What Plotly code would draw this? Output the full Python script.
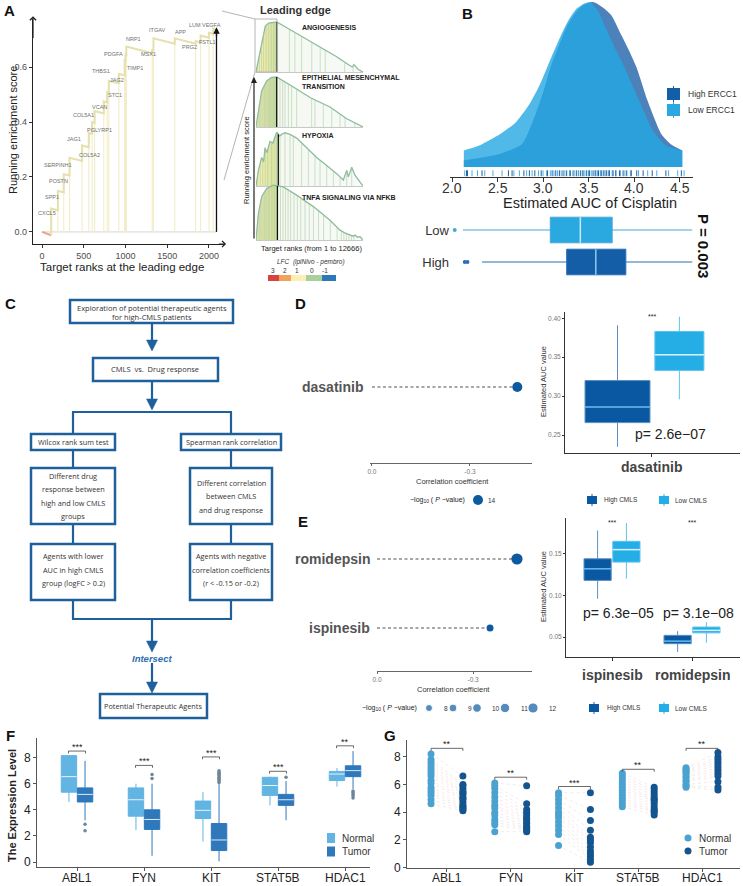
import plotly.graph_objects as go
import numpy as np

W, H = 743, 886
SANS = "Liberation Sans, Arial, sans-serif"
FLOW = "Open Sans, Noto Sans, sans-serif"

# ======================= DATA =======================
# ---- Panel A (left): running enrichment score at the leading edge ----
lead_genes = ["CXCL5", "SPP1", "POSTN", "SERPINH1", "COL5A2", "JAG1", "PGLYRP1", "COL5A1",
              "VCAN", "STC1", "JAG2", "THBS1", "TIMP1", "PDGFA", "NRP1", "MSX1", "ITGAV",
              "APP", "PRG2", "LUM", "FSTL1", "VEGFA"]
lead_rank = [110, 190, 260, 330, 480, 560, 600, 630, 740, 780, 800, 920, 990, 1000, 1010,
             1320, 1335, 1590, 1840, 1900, 2000, 2050]
lead_es_before = [-0.012, 0.079, 0.144, 0.205, 0.258, 0.308, 0.357, 0.397, 0.431, 0.471, 0.508,
                  0.541, 0.570, 0.624, 0.644, 0.650, 0.662, 0.685, 0.685, 0.690, 0.707, 0.721]
lead_es_after = [0.085, 0.150, 0.210, 0.270, 0.315, 0.360, 0.400, 0.440, 0.475, 0.510, 0.550,
                 0.575, 0.625, 0.645, 0.675, 0.662, 0.705, 0.705, 0.695, 0.715, 0.725, 0.740]
lead_start_es = 0.0
lead_end_rank = 2090
lead_end_es = 0.737
lead_xticks = [0, 500, 1000, 1500, 2000]
lead_yticks = [0.0, 0.2, 0.4, 0.6]

# ---- Panel A (right): four hallmark gene sets ----
gs_names = ["ANGIOGENESIS", "EPITHELIAL MESENCHYMAL<br>TRANSITION", "HYPOXIA", "TNFA SIGNALING VIA NFKB"]
angio_rank = [0, 250, 500, 800, 1100, 1500, 2000, 2450, 3500, 5000, 6500, 8000, 9500, 11000,
              11400, 11600, 11800, 12100, 12666]
angio_es = [0, 0.22, 0.45, 0.72, 0.92, 0.98, 0.99, 1.0, 0.90, 0.75, 0.60, 0.45, 0.31, 0.14,
            0.10, 0.15, 0.11, 0.05, 0]
angio_hits = [150, 400, 650, 900, 1200, 1500, 1800, 2100, 2350, 3950, 4600, 5400, 6600, 7600,
              8200, 10500, 11500]
emt_rank = [0, 280, 670, 1260, 1850, 2450, 3500, 4800, 6500, 8760, 10700, 11900, 12666]
emt_es = [0, 0.33, 0.72, 0.92, 0.99, 1.0, 0.90, 0.76, 0.58, 0.40, 0.17, 0.06, 0]
emt_hits = [100, 250, 400, 550, 700, 850, 1000, 1150, 1300, 1450, 1600, 1750, 1900, 2050, 2200,
            2350, 2840, 3160, 3430, 3830, 4220, 4810, 6590, 6980, 7970, 8960, 9950, 10540, 11700]
hyp_rank = [0, 300, 670, 900, 1070, 1300, 1660, 2000, 2450, 2800, 3040, 3430, 4030, 4810, 6000,
            7180, 8370, 9550, 10340, 10740, 10930, 11330, 11720, 12310, 12666]
hyp_es = [0, 0.30, 0.53, 0.45, 0.71, 0.62, 0.83, 0.80, 1.0, 0.93, 0.96, 0.99, 0.96, 0.89, 0.71,
          0.53, 0.38, 0.23, 0.11, 0.29, 0.17, 0.35, 0.20, 0.08, 0]
hyp_hits = [200, 500, 800, 1100, 1400, 1850, 2450, 2840, 3430, 4030, 4420, 5400, 6200, 6980, 7580,
            8370, 9160, 9950, 10740, 11330]
tnfa_rank = [0, 280, 670, 1260, 2050, 3240, 4810, 6790, 8760, 9950, 10500, 11130, 11500, 11720,
             12000, 12310, 12666]
tnfa_es = [0, 0.48, 0.79, 0.94, 1.0, 0.97, 0.82, 0.61, 0.36, 0.18, 0.13, 0.09, 0.07, 0.09, 0.05,
           0.06, 0]
tnfa_hits = [100, 250, 400, 550, 700, 850, 1000, 1150, 1300, 1450, 1600, 1800, 2000, 2200, 2600,
             2900, 3200, 3500, 3800, 4100, 4500, 4900, 5300, 5800, 6300, 6800, 7400, 8000, 8800,
             9600, 10100, 10400, 10700, 11000, 11300, 11600]
gs_edge_rank = [2450, 2450, 2640, 2530]
gs_total_rank = 12666
lfc_labels = ["3", "2", "1", "0", "-1"]

# ---- Panel B: estimated AUC of cisplatin ----
auc_grid_low = [2.13, 2.30, 2.53, 2.70, 2.85, 2.97, 3.08, 3.19, 3.28, 3.37, 3.45, 3.52, 3.60,
                3.70, 3.80, 3.89, 4.05, 4.22, 4.35, 4.53]
low_dens = [0.10, 0.13, 0.20, 0.27, 0.38, 0.505, 0.65, 0.79, 0.89, 0.96, 0.99, 1.0, 0.95,
            0.83, 0.71, 0.61, 0.41, 0.21, 0.13, 0.10]
auc_grid_high = [2.13, 2.53, 2.77, 2.89, 3.00, 3.08, 3.17, 3.26, 3.35, 3.44, 3.55, 3.65, 3.75,
                 3.86, 3.95, 4.03, 4.15, 4.30, 4.40, 4.53]
high_dens = [0.04, 0.08, 0.14, 0.28, 0.45, 0.60, 0.73, 0.85, 0.93, 0.98, 1.0, 0.97, 0.92, 0.80,
             0.70, 0.60, 0.40, 0.20, 0.14, 0.10]
b_high_auc = [2.16, 2.17, 2.33, 2.62, 2.66, 2.79, 2.85, 2.91, 2.98, 3.05, 3.10, 3.14, 3.18, 3.22,
              3.26, 3.30, 3.33, 3.37, 3.41, 3.44, 3.48, 3.51, 3.55, 3.58, 3.61, 3.64, 3.67, 3.70,
              3.73, 3.77, 3.80, 3.84, 3.88, 3.92, 3.97, 4.03, 4.10, 4.20, 4.35, 4.52]
b_low_auc = [2.14, 2.22, 2.28, 2.36, 2.45, 2.55, 2.68, 2.74, 2.82, 2.88, 2.95, 3.00, 3.04, 3.08,
             3.12, 3.16, 3.20, 3.24, 3.29, 3.35, 3.39, 3.43, 3.46, 3.50, 3.53, 3.57, 3.60, 3.63,
             3.66, 3.69, 3.72, 3.76, 3.80, 3.85, 3.90, 3.96, 4.05, 4.15, 4.25, 4.38, 4.48, 4.55]
b_xticks = [2.0, 2.5, 3.0, 3.5, 4.0, 4.5]
b_groups = ["High", "Low"]
b_q1 = [3.26, 3.08]
b_med = [3.58, 3.41]
b_q3 = [3.91, 3.76]
b_lo = [2.33, 2.12]
b_hi = [4.64, 4.64]
b_outliers = [[2.14, 2.17], [2.03]]
b_pvalue = "P = 0.003"
b_legend = ["High ERCC1", "Low ERCC1"]

# ---- Panel D: dasatinib ----
d_drugs = ["dasatinib"]
d_corr = [-0.445]
d_logp = [14]
d_corr_ticks = [0.0, -0.3]
d_q1 = [0.266, 0.333]
d_med = [0.286, 0.353]
d_q3 = [0.320, 0.383]
d_lo = [0.235, 0.296]
d_hi = [0.391, 0.402]
d_yticks = [0.25, 0.30, 0.35, 0.40]
d_pval = ["2.6e−07"]
d_sig = ["***"]
cmls_groups = ["High CMLS", "Low CMLS"]

# ---- Panel E: ispinesib / romidepsin ----
e_drugs = ["ispinesib", "romidepsin"]
e_corr = [-0.353, -0.437]
e_logp = [8, 12]
e_legend_logp = [8, 9, 10, 11, 12]
e_q1_high = [0.118, 0.042]
e_med_high = [0.132, 0.045]
e_q3_high = [0.144, 0.052]
e_lo_high = [0.096, 0.032]
e_hi_high = [0.178, 0.057]
e_q1_low = [0.140, 0.055]
e_med_low = [0.155, 0.058]
e_q3_low = [0.165, 0.062]
e_lo_low = [0.120, 0.043]
e_hi_low = [0.187, 0.068]
e_yticks = [0.05, 0.10, 0.15]
e_pval = ["6.3e−05", "3.1e−08"]
e_sig = ["***", "***"]

# ---- Panel F: expression boxplots ----
genes = ["ABL1", "FYN", "KIT", "STAT5B", "HDAC1"]
f_norm_q1 = [5.35, 3.51, 3.33, 5.10, 6.24]
f_norm_med = [6.54, 4.77, 3.96, 5.86, 6.74]
f_norm_q3 = [8.15, 5.68, 4.67, 6.49, 6.94]
f_norm_lo = [4.60, 2.45, 1.57, 4.34, 5.78]
f_norm_hi = [8.20, 6.00, 5.35, 6.54, 7.20]
f_tum_q1 = [4.60, 2.50, 0.88, 4.34, 6.54]
f_tum_med = [5.18, 3.26, 1.69, 4.77, 7.00]
f_tum_q3 = [5.68, 4.00, 2.95, 5.18, 7.37]
f_tum_lo = [3.20, 0.48, 0.05, 3.20, 5.60]
f_tum_hi = [7.75, 6.00, 6.00, 6.20, 8.50]
f_tum_outliers = [[2.9, 2.4], [6.4, 6.7],
                  [6.1, 6.2, 6.3, 6.4, 6.5, 6.6, 6.7, 6.8, 6.9, 7.0],
                  [6.5], [5.45, 5.35, 5.2, 5.05, 4.9]]
f_sig = ["***", "***", "***", "***", "**"]
f_sig_y = [8.5, 7.4, 8.05, 6.95, 8.9]
expr_ticks = [0, 2, 4, 6, 8]

# ---- Panel G: paired expression ----
g_normal = [
    [8.2, 7.8, 7.6, 7.4, 7.2, 7.0, 6.8, 6.6, 6.3, 6.1, 5.8, 5.6, 5.4, 5.2, 4.9, 4.6],
    [6.1, 5.9, 5.7, 5.4, 5.1, 4.8, 4.5, 4.3, 4.0, 3.8, 3.5, 3.3, 3.1, 2.6],
    [5.4, 5.2, 4.9, 4.6, 4.3, 4.0, 3.8, 3.6, 3.3, 3.0, 2.7, 2.4, 1.6],
    [6.8, 6.6, 6.4, 6.2, 6.0, 5.8, 5.6, 5.4, 5.2, 5.0, 4.8, 4.6, 4.4],
    [7.2, 7.1, 7.0, 6.9, 6.8, 6.6, 6.5, 6.3, 6.2, 6.0, 5.9, 5.8],
]
g_tumor = [
    [6.6, 6.0, 5.9, 5.7, 5.5, 5.4, 5.3, 5.1, 5.0, 4.9, 4.7, 4.5, 4.4, 4.3, 4.2, 4.1],
    [5.9, 4.6, 4.2, 4.0, 3.8, 3.6, 3.5, 3.3, 3.2, 3.0, 2.9, 2.8, 2.7, 2.6],
    [5.4, 4.2, 3.4, 2.7, 2.2, 2.0, 1.8, 1.5, 1.2, 1.0, 0.8, 0.6, 0.4],
    [5.8, 5.6, 5.4, 5.2, 5.0, 4.9, 4.8, 4.6, 4.4, 4.2, 4.1, 4.0, 3.8],
    [8.3, 8.0, 7.8, 7.6, 7.4, 7.2, 7.0, 6.8, 6.6, 6.2, 5.8, 5.6],
]
g_sig = ["**", "**", "***", "**", "**"]
g_sig_y = [8.6, 6.52, 5.85, 7.09, 8.6]

# ======================= HELPERS =======================
fig = go.Figure()
LAY = {}
NAX = [0]
ANN = []
SHP = []
BASE_AX = dict(showgrid=False, zeroline=False, showticklabels=False, ticks="", showline=False,
               automargin=False, fixedrange=True)


def axes(x0, x1, y0, y1, xr, yr, xkw=None, ykw=None):
    NAX[0] += 1
    i = NAX[0]
    s = "" if i == 1 else str(i)
    xa = dict(BASE_AX, domain=[x0 / W, x1 / W], range=xr, anchor="y" + s)
    ya = dict(BASE_AX, domain=[1 - y1 / H, 1 - y0 / H], range=yr, anchor="x" + s)
    if xkw:
        xa.update(xkw)
    if ykw:
        ya.update(ykw)
    LAY["xaxis" + s] = xa
    LAY["yaxis" + s] = ya
    return "x" + s, "y" + s


def txt(x, y, s, size=10, color="#333", family=SANS, xa="center", ya="middle", angle=0):
    ANN.append(dict(x=x / W, y=1 - y / H, xref="paper", yref="paper", text=s, showarrow=False,
                    font=dict(size=size, color=color, family=family), xanchor=xa, yanchor=ya,
                    textangle=angle))


def xlab(xref, xv, y, s, size, color="#222"):
    ANN.append(dict(x=xv, y=1 - y / H, xref=xref, yref="paper", text=s, showarrow=False,
                    font=dict(size=size, color=color, family=SANS), xanchor="center",
                    yanchor="middle"))


def pline(x0, y0, x1, y1, color, width=1.0, dash=None):
    SHP.append(dict(type="line", xref="paper", yref="paper", x0=x0 / W, y0=1 - y0 / H,
                    x1=x1 / W, y1=1 - y1 / H, line=dict(color=color, width=width, dash=dash)))


def prect(x0, y0, x1, y1, line=None, fill=None, width=1.0):
    SHP.append(dict(type="rect", xref="paper", yref="paper", x0=x0 / W, y0=1 - y0 / H,
                    x1=x1 / W, y1=1 - y1 / H,
                    line=dict(color=line if line else "rgba(0,0,0,0)", width=width if line else 0),
                    fillcolor=fill if fill else "rgba(0,0,0,0)"))


def tri_down(cx, tip, w, h, color):
    path = (f"M {(cx - w / 2) / W},{1 - (tip - h) / H} L {(cx + w / 2) / W},{1 - (tip - h) / H} "
            f"L {cx / W},{1 - tip / H} Z")
    SHP.append(dict(type="path", xref="paper", yref="paper", path=path, fillcolor=color,
                    line=dict(color=color, width=0.5)))


def seg_xy(xs0, ys0, xs1, ys1):
    X, Y = [], []
    for a, b, c, d in zip(xs0, ys0, xs1, ys1):
        X += [a, c, None]
        Y += [b, d, None]
    return X, Y


def line_trace(X, Y, xa, ya, color, width=1.0, dash=None, shape="linear"):
    fig.add_trace(go.Scatter(x=X, y=Y, mode="lines", xaxis=xa, yaxis=ya, hoverinfo="skip",
                             line=dict(color=color, width=width, dash=dash, shape=shape),
                             showlegend=False))


def tick_ax(size=9, color="#4d4d4d", **kw):
    d = dict(showline=True, linecolor="#333", linewidth=1, ticks="outside", ticklen=3,
             tickcolor="#333", showticklabels=True, tickfont=dict(size=size, color=color, family=SANS))
    d.update(kw)
    return d


# ======================= PANEL A (left) =======================
xa, ya = axes(33, 225, 19, 244, [-108, 2192], [-0.044, 0.775],
              xkw=tick_ax(9, linecolor="#222", linewidth=1.2, tickvals=lead_xticks),
              ykw=tick_ax(9, linecolor="#222", linewidth=1.2, tickvals=lead_yticks,
                          ticktext=[f"{v:.1f}" for v in lead_yticks]))
line_trace([0, lead_end_rank], [0, 0], xa, ya, "#d6d6d6", 1)
hx, hy = seg_xy(lead_rank, [0] * len(lead_rank), lead_rank, lead_es_after)
line_trace(hx, hy, xa, ya, "#f2edc8", 1.1)
line_trace([0, lead_rank[0]], [lead_start_es, lead_es_before[0]], xa, ya, "#f0a07e", 2)
px_, py_ = [lead_rank[0]], [lead_es_before[0]]
for r, b, a in zip(lead_rank, lead_es_before, lead_es_after):
    px_ += [r, r]
    py_ += [b, a]
px_.append(lead_end_rank)
py_.append(lead_end_es)
line_trace(px_, py_, xa, ya, "#e6e0ad", 2)
line_trace([lead_end_rank, lead_end_rank], [0, lead_end_es], xa, ya, "#111", 1.3)
ANN.append(dict(x=lead_end_rank, y=lead_end_es + 0.008, xref=xa, yref=ya, ax=lead_end_rank,
                ay=lead_end_es - 0.03, axref=xa, ayref=ya, showarrow=True, arrowhead=2,
                arrowsize=1, arrowwidth=1.3, arrowcolor="#111", text=""))
ANN.append(dict(x=-108, y=0.785, xref=xa, yref=ya, ax=-108, ay=0.70, axref=xa, ayref=ya,
                showarrow=True, arrowhead=4, arrowsize=1, arrowwidth=1.2, arrowcolor="#222", text=""))
ANN.append(dict(x=2205, y=-0.044, xref=xa, yref=ya, ax=2100, ay=-0.044, axref=xa, ayref=ya,
                showarrow=True, arrowhead=4, arrowsize=1, arrowwidth=1.2, arrowcolor="#222", text=""))
lead_label_px = [(47, 213), (52, 197), (58, 181), (58, 165), (89, 155), (74, 139), (99, 130),
                 (83, 115), (99, 107), (115, 95), (117, 80), (101, 71), (135, 68), (113, 54),
                 (133, 39), (148, 54), (157, 30), (180, 32), (189, 47), (195, 25), (208, 42),
                 (211, 25)]
for g, (lx, ly) in zip(lead_genes, lead_label_px):
    txt(lx, ly, g, 5.5, "#707070")
txt(13, 130, "Running enrichment score", 11, "#222", angle=-90)
txt(122, 267, "Target ranks at the leading edge", 11.5, "#222")

# ======================= PANEL A (right) =======================
gs_data = [(angio_rank, angio_es, angio_hits), (emt_rank, emt_es, emt_hits),
           (hyp_rank, hyp_es, hyp_hits), (tnfa_rank, tnfa_es, tnfa_hits)]
gs_dom = [(19, 72), (74, 127), (129, 186), (182, 240)]
gs_title_y = [28, 81, 135, 197]
grad = [[0, "#f7f1b8"], [0.08, "#efeaa9"], [0.19, "#d2e2a0"], [0.21, "rgba(232,241,222,0.45)"],
        [1, "rgba(232,242,232,0.35)"]]
for (rk, es, hits), (t0, t1), ty, name, edge in zip(gs_data, gs_dom, gs_title_y, gs_names, gs_edge_rank):
    gx, gy = axes(256, 363, t0, t1, [0, gs_total_rank], [0, 1.06],
                  xkw=dict(showline=True, linecolor="#c8c8c8", linewidth=1))
    fig.add_trace(go.Scatter(x=rk, y=es, mode="lines", fill="tozeroy", xaxis=gx, yaxis=gy,
                             fillgradient=dict(type="horizontal", colorscale=grad),
                             line=dict(color="#8dbb9d", width=1.3), hoverinfo="skip",
                             showlegend=False))
    hv = np.interp(hits, rk, es)
    X, Y = seg_xy(hits, [0] * len(hits), hits, list(hv))
    line_trace(X, Y, gx, gy, "rgba(165,200,160,0.6)", 0.9)
    ev = float(np.interp(edge, rk, es))
    line_trace([edge, edge], [0, ev], gx, gy, "#111", 1.3)
    nm = name.split("<br>")
    for k, part in enumerate(nm):
        txt(300, ty + k * 9 - (4 if len(nm) > 1 else 0), f"<b>{part}</b>", 7, "#222", xa="left")
prect(255, 19, 277, 72, line="#b5b5b5", width=1)
pline(222, 11, 255, 19, "#b5b5b5", 1)
pline(224, 180, 255, 72, "#b5b5b5", 1)
ANN.append(dict(x=254 / W, y=1 - 77 / H, xref="paper", yref="paper", ax=0, ay=163,
                showarrow=True, arrowhead=2, arrowsize=1, arrowwidth=1.2, arrowcolor="#222", text=""))
txt(258, 10, "<b>Leading edge</b>", 11, "#333", xa="left")
txt(311, 249, "Target ranks (from 1 to 12666)", 7.5, "#222")
txt(247, 160, "Running enrichment score", 7.5, "#222", angle=-90)
txt(311, 262, "<i>LFC  (ipiNivo - pembro)</i>", 6.5, "#333")
lfc_colors = ["#d7433f", "#f3a25c", "#fbf0b2", "#a9d09b", "#2b79b8"]
lfc_x = [268, 279, 291, 306, 322, 336]
lfc_lx = [273, 285, 297, 312, 325]
for i, (lab, c) in enumerate(zip(lfc_labels, lfc_colors)):
    prect(lfc_x[i], 275, lfc_x[i + 1], 281, fill=c)
    txt(lfc_lx[i], 270, lab, 6.5, "#333")

# ======================= PANEL B =======================
xb, yb = axes(450, 693, 0, 177, [1.978, 4.648], [-0.0606, 1.012],
              xkw=dict(showline=True, linecolor="#333", linewidth=1, ticks="outside", ticklen=4,
                       tickcolor="#333", tickvals=b_xticks))
fig.add_trace(go.Scatter(x=auc_grid_high, y=high_dens, mode="lines", fill="tozeroy",
                         fillcolor="rgba(31,98,168,0.80)", line=dict(width=0, shape="spline", smoothing=0.6),
                         xaxis=xb, yaxis=yb, hoverinfo="skip", showlegend=False))
fig.add_trace(go.Scatter(x=auc_grid_low, y=low_dens, mode="lines", fill="tozeroy",
                         fillcolor="rgba(36,168,226,0.80)", line=dict(width=0, shape="spline", smoothing=0.6),
                         xaxis=xb, yaxis=yb, hoverinfo="skip", showlegend=False))
X, Y = seg_xy(b_low_auc, [-0.056] * len(b_low_auc), b_low_auc, [-0.02] * len(b_low_auc))
line_trace(X, Y, xb, yb, "#4aaee2", 1)
X, Y = seg_xy(b_high_auc, [-0.056] * len(b_high_auc), b_high_auc, [-0.02] * len(b_high_auc))
line_trace(X, Y, xb, yb, "#1f5fa6", 1)
for v in b_xticks:
    xlab(xb, v, 188, f"{v:.1f}", 14, "#333")
txt(590, 203, "Estimated AUC of Cisplatin", 14.5, "#222")

xbb, ybb = axes(450, 693, 214, 278, [1.978, 4.648], [-0.5, 1.5],
                ykw=dict(showticklabels=True, tickvals=[0, 1], ticktext=b_groups,
                         tickfont=dict(size=13, color="#333", family=SANS)))
b_fill = ["#145ea8", "#29a9e0"]
b_line = ["#2a6fb5", "#47a7db"]
b_medc = ["#8cc7ee", "#c9e9f8"]
for i in range(2):
    fig.add_trace(go.Box(y=[i], q1=[b_q1[i]], median=[b_med[i]], q3=[b_q3[i]],
                         lowerfence=[b_lo[i]], upperfence=[b_hi[i]], orientation="h",
                         width=0.8, whiskerwidth=0, fillcolor=b_fill[i],
                         line=dict(color=b_line[i], width=1), xaxis=xbb, yaxis=ybb,
                         boxpoints=False, hoverinfo="skip", showlegend=False))
    line_trace([b_med[i], b_med[i]], [i - 0.4, i + 0.4], xbb, ybb, b_medc[i], 1.5)
    fig.add_trace(go.Scatter(x=b_outliers[i], y=[i] * len(b_outliers[i]), mode="markers",
                             marker=dict(size=4, color=b_line[i]), xaxis=xbb, yaxis=ybb,
                             hoverinfo="skip", showlegend=False))
txt(703, 246, f"<b>{b_pvalue}</b>", 15, "#111", angle=90)
for k, (lab, c) in enumerate(zip(b_legend, b_fill)):
    yy = 94 + k * 16
    prect(667, yy - 6, 680, yy + 6, fill=c)
    pline(673.5, yy - 8, 673.5, yy + 8, c, 1)
    txt(686, yy, lab, 8.5, "#333", xa="left")

# ======================= PANEL C (flowchart) =======================
BL = "#1e5f9c"
FT = "#333"
prect(70, 300, 233, 323, line=BL, width=2.5)
txt(152, 308, "Exploration of potential therapeutic agents", 7.5, FT, FLOW)
txt(152, 317, "for high-CMLS patients", 7.5, FT, FLOW)
pline(152, 323, 152, 341, BL, 2.2)
tri_down(152, 351, 11, 11, BL)
prect(93, 358, 218, 381, line=BL, width=2.5)
txt(155, 369, "CMLS  vs.  Drug response", 7.5, FT, FLOW)
pline(152, 381, 152, 399, BL, 2.2)
tri_down(152, 410, 11, 11, BL)
pline(72, 412, 232, 412, BL, 2.2)
for cx in (73, 231):
    pline(cx, 412, cx, 434, BL, 2.2)
    pline(cx, 450, cx, 468, BL, 2.2)
    pline(cx, 524, cx, 544, BL, 2.2)
    pline(cx, 600, cx, 619, BL, 2.2)
prect(31, 434, 115, 450, line=BL, width=2.5)
txt(73, 442, "Wilcox rank sum test", 7.3, FT, FLOW)
prect(181, 434, 281, 450, line=BL, width=2.5)
txt(231, 442, "Spearman rank correlation", 7.3, FT, FLOW)
prect(31, 468, 115, 524, line=BL, width=2.5)
for k, s in enumerate(["Different drug", "response between", "high and low CMLS", "groups"]):
    txt(73, 476 + k * 13.3, s, 7.3, FT, FLOW)
prect(190, 468, 272, 524, line=BL, width=2.5)
for k, s in enumerate(["Different correlation", "between CMLS", "and drug response"]):
    txt(231, 483 + k * 13.3, s, 7.3, FT, FLOW)
prect(31, 544, 115, 600, line=BL, width=2.5)
for k, s in enumerate(["Agents with lower", "AUC in high CMLS", "group (logFC > 0.2)"]):
    txt(73, 556 + k * 13.6, s, 7.3, FT, FLOW)
prect(190, 544, 272, 600, line=BL, width=2.5)
for k, s in enumerate(["Agents with negative", "correlation coefficients", "(r < -0.15 or -0.2)"]):
    txt(231, 556 + k * 13.6, s, 7.3, FT, FLOW)
pline(72, 619, 232, 619, BL, 2.2)
pline(152, 619, 152, 641, BL, 2.2)
tri_down(152, 652, 11, 11, BL)
txt(152, 658, "<b><i>Intersect</i></b>", 9.5, "#2d6cb0", SANS)
pline(152, 663, 152, 682, BL, 2.2)
tri_down(152, 693, 11, 11, BL)
prect(100, 694, 207, 718, line=BL, width=2.5)
txt(153, 706, "Potential Therapeutic Agents", 7.3, FT, FLOW)


# ======================= PANEL D =======================
def lsize_d(v):
    return 10 * v / 14


def lsize_e(v):
    return 7 + (v - 8) * 0.8


xd, yd = axes(370, 532, 311, 463, [0.006, -0.49], [-0.6, 0.6],
              xkw=tick_ax(6.5, "#777", linecolor="#666", ticklen=2, tickcolor="#666",
                          tickvals=d_corr_ticks, ticktext=["0.0", "-0.3"]))
for j, (dname, c, lp) in enumerate(zip(d_drugs, d_corr, d_logp)):
    line_trace([0, c], [j, j], xd, yd, "#8a8a8a", 1.4, dash="3px,2.5px")
    fig.add_trace(go.Scatter(x=[c], y=[j], mode="markers", xaxis=xd, yaxis=yd,
                             marker=dict(size=lsize_d(lp), color="#0c5aa0"),
                             hoverinfo="skip", showlegend=False))
    ANN.append(dict(x=0, y=j, xref=xd, yref=yd, text=f"<b>{dname}</b>", showarrow=False,
                    xanchor="right", xshift=-7, font=dict(size=14, color="#555", family=SANS)))
txt(452, 481, "Correlation coefficient", 7.5, "#333")

xdb, ydb = axes(565, 740, 312, 453, [-0.621, 0.629], [0.227, 0.408],
                xkw=dict(showline=True, linecolor="#333", linewidth=1, ticks="outside", ticklen=3,
                         tickcolor="#333", tickvals=[0]),
                ykw=tick_ax(6.5, "#777", linecolor="#333", ticklen=2, tickvals=d_yticks,
                            ticktext=[f"{v:.2f}" for v in d_yticks]))
xlab(xdb, 0, 467, f"<b>{d_drugs[0]}</b>", 14, "#444")
cm_fill = ["#0a58a2", "#25ade6"]
cm_line = ["#5b8fc3", "#5cc3ee"]
cm_med = ["#5ab7ea", "#d5f0fb"]
d_pos = [-0.246, 0.196]
d_wid = [0.464, 0.35]
for i in range(2):
    fig.add_trace(go.Box(x=[d_pos[i]], q1=[d_q1[i]], median=[d_med[i]], q3=[d_q3[i]],
                         lowerfence=[d_lo[i]], upperfence=[d_hi[i]], width=d_wid[i],
                         whiskerwidth=0, fillcolor=cm_fill[i], line=dict(color=cm_line[i], width=1),
                         xaxis=xdb, yaxis=ydb, boxpoints=False, hoverinfo="skip", showlegend=False))
    line_trace([d_pos[i] - d_wid[i] / 2, d_pos[i] + d_wid[i] / 2], [d_med[i], d_med[i]],
               xdb, ydb, cm_med[i], 1.5)
txt(652, 316, d_sig[0], 7, "#222")
txt(670, 434, f"p= {d_pval[0]}", 14, "#222")
txt(543, 382, "Estimated AUC value", 7.5, "#333", angle=-90)

# ======================= PANEL E =======================
xe, ye = axes(377, 532, 520, 671, [0.0, -0.484], [-0.623, 1.565],
              xkw=tick_ax(6.5, "#777", linecolor="#666", ticklen=2, tickcolor="#666",
                          tickvals=d_corr_ticks, ticktext=["0.0", "-0.3"]))
for j, (dname, c, lp) in enumerate(zip(e_drugs, e_corr, e_logp)):
    line_trace([0, c], [j, j], xe, ye, "#8a8a8a", 1.4, dash="3px,2.5px")
    fig.add_trace(go.Scatter(x=[c], y=[j], mode="markers", xaxis=xe, yaxis=ye,
                             marker=dict(size=lsize_e(lp) + (1 if lp > 10 else 0), color="#0c5aa0"),
                             hoverinfo="skip", showlegend=False))
    ANN.append(dict(x=0, y=j, xref=xe, yref=ye, text=f"<b>{dname}</b>", showarrow=False,
                    xanchor="right", xshift=-5, font=dict(size=14, color="#555", family=SANS)))
txt(453, 689, "Correlation coefficient", 7.5, "#333")

xeb, yeb = axes(566, 740, 518, 657, [-0.575, 1.6], [0.026, 0.193],
                xkw=dict(showline=True, linecolor="#333", linewidth=1, ticks="outside", ticklen=3,
                         tickcolor="#333", tickvals=[0, 1]),
                ykw=tick_ax(6.5, "#777", linecolor="#333", ticklen=2, tickvals=e_yticks,
                            ticktext=[f"{v:.2f}" for v in e_yticks]))
for k, d in enumerate(e_drugs):
    xlab(xeb, k, 675, f"<b>{d}</b>", 14, "#444")
e_stats = [(e_q1_high, e_med_high, e_q3_high, e_lo_high, e_hi_high),
           (e_q1_low, e_med_low, e_q3_low, e_lo_low, e_hi_low)]
e_off = [-0.18, 0.18]
for i, (q1, md, q3, lo, hi) in enumerate(e_stats):
    pos = [k + e_off[i] for k in range(len(e_drugs))]
    fig.add_trace(go.Box(x=pos, q1=q1, median=md, q3=q3, lowerfence=lo, upperfence=hi,
                         width=0.34, whiskerwidth=0, fillcolor=cm_fill[i],
                         line=dict(color=cm_line[i], width=1), xaxis=xeb, yaxis=yeb,
                         boxpoints=False, hoverinfo="skip", showlegend=False))
    X, Y = seg_xy([p - 0.17 for p in pos], md, [p + 0.17 for p in pos], md)
    line_trace(X, Y, xeb, yeb, cm_med[i], 1.5)
for k, (s, p) in enumerate(zip(e_sig, e_pval)):
    ANN.append(dict(x=k, y=0.187, xref=xeb, yref=yeb, text=s, showarrow=False,
                    font=dict(size=7, color="#222", family=SANS)))
txt(618, 613, f"p= {e_pval[0]}", 14, "#222")
txt(698, 613, f"p= {e_pval[1]}", 14, "#222")
txt(543, 587, "Estimated AUC value", 7.5, "#333", angle=-90)

# ======================= PANEL F =======================
xf, yf = axes(37, 370, 738, 867, [-0.597, 4.373], [-0.38, 9.5],
              xkw=dict(showline=True, linecolor="#555", linewidth=1, ticks="outside", ticklen=3,
                       tickcolor="#555", tickvals=list(range(len(genes)))),
              ykw=tick_ax(12, "#222", linecolor="#555", tickcolor="#555", tickvals=expr_ticks))
for k, g in enumerate(genes):
    xlab(xf, k, 878, g, 12, "#222")
f_fill = ["#62b4e2", "#2e78bb"]
f_line = ["#62b4e2", "#2e78bb"]
f_stats = [(f_norm_q1, f_norm_med, f_norm_q3, f_norm_lo, f_norm_hi),
           (f_tum_q1, f_tum_med, f_tum_q3, f_tum_lo, f_tum_hi)]
f_off = [-0.12, 0.12]
for i, (q1, md, q3, lo, hi) in enumerate(f_stats):
    pos = [k + f_off[i] for k in range(len(genes))]
    fig.add_trace(go.Box(x=pos, q1=q1, median=md, q3=q3, lowerfence=lo, upperfence=hi,
                         width=0.23, whiskerwidth=0, fillcolor=f_fill[i],
                         line=dict(color=f_line[i], width=1), xaxis=xf, yaxis=yf,
                         boxpoints=False, hoverinfo="skip", showlegend=False))
    X, Y = seg_xy([p - 0.115 for p in pos], md, [p + 0.115 for p in pos], md)
    line_trace(X, Y, xf, yf, "rgba(255,255,255,0.85)", 1)
ox_, oy_ = [], []
for k, outs in enumerate(f_tum_outliers):
    ox_ += [k + f_off[1]] * len(outs)
    oy_ += outs
fig.add_trace(go.Scatter(x=ox_, y=oy_, mode="markers", marker=dict(size=3.5, color="#6f8499"),
                         xaxis=xf, yaxis=yf, hoverinfo="skip", showlegend=False))
for k, (s, h) in enumerate(zip(f_sig, f_sig_y)):
    line_trace([k - 0.127, k - 0.127, k + 0.127, k + 0.127], [h - 0.18, h, h, h - 0.18], xf, yf, "#444", 0.8)
    ANN.append(dict(x=k, y=h, xref=xf, yref=yf, text=s, showarrow=False, yanchor="bottom",
                    yshift=-3, font=dict(size=9, color="#222", family=SANS)))
txt(12, 806, "<b>The Expression Level</b>", 11, "#222", angle=-90)
for k, (lab, c) in enumerate(zip(["Normal", "Tumor"], f_fill)):
    yy = 838 + k * 13.5
    prect(327, yy - 5, 335, yy + 5, fill=c)
    txt(340, yy, lab, 10, "#333", xa="left")

# ======================= PANEL G =======================
xg, yg = axes(407, 740, 740, 868, [-0.627, 4.596], [-0.02, 9.2],
              xkw=dict(showline=True, linecolor="#555", linewidth=1, ticks="outside", ticklen=3,
                       tickcolor="#555", tickvals=list(range(len(genes)))),
              ykw=tick_ax(12, "#222", linecolor="#555", tickcolor="#555", tickvals=expr_ticks))
for k, g in enumerate(genes):
    xlab(xg, k, 878, g, 12, "#222")
lx, ly = [], []
for k in range(len(genes)):
    for a, b in zip(g_normal[k], g_tumor[k]):
        lx += [k - 0.25, k + 0.25, None]
        ly += [a, b, None]
line_trace(lx, ly, xg, yg, "rgba(226,185,185,0.4)", 0.8, dash="dot")
g_col = ["#4ba2d0", "#14548f"]
for i, grp in enumerate([g_normal, g_tumor]):
    xs, ys = [], []
    for k in range(len(genes)):
        xs += [k + (-0.25 if i == 0 else 0.25)] * len(grp[k])
        ys += grp[k]
    fig.add_trace(go.Scatter(x=xs, y=ys, mode="markers", marker=dict(size=7, color=g_col[i]),
                             xaxis=xg, yaxis=yg, hoverinfo="skip", showlegend=False))
for k, (s, h) in enumerate(zip(g_sig, g_sig_y)):
    line_trace([k - 0.25, k - 0.25, k + 0.25, k + 0.25], [h - 0.18, h, h, h - 0.18], xg, yg, "#444", 0.8)
    ANN.append(dict(x=k, y=h, xref=xg, yref=yg, text=s, showarrow=False, yanchor="bottom",
                    yshift=-3, font=dict(size=9, color="#222", family=SANS)))

# ======================= overlay (legends) =======================
ov_x, ov_y = axes(0, W, 0, H, [0, W], [H, 0])
fig.add_trace(go.Scatter(x=[478], y=[500], mode="markers", xaxis=ov_x, yaxis=ov_y,
                         marker=dict(size=lsize_d(d_logp[0]), color="#0c5aa0"),
                         hoverinfo="skip", showlegend=False))
txt(437, 500, "−log<sub>10</sub> ( <i>P</i> −value)", 7, "#222")
txt(492, 500, str(d_logp[0]), 6.5, "#333")
e_leg_x = [429, 453, 477, 505, 533]
fig.add_trace(go.Scatter(x=e_leg_x, y=[708] * len(e_leg_x), mode="markers", xaxis=ov_x, yaxis=ov_y,
                         marker=dict(size=[lsize_e(v) for v in e_legend_logp], color="#0c5aa0"),
                         hoverinfo="skip", showlegend=False))
txt(389, 708, "−log<sub>10</sub> ( <i>P</i> −value)", 7, "#222")
for xx, v in zip(e_leg_x, e_legend_logp):
    txt(xx + 9 + lsize_e(v) / 2, 708, str(v), 6.5, "#333", xa="left")
fig.add_trace(go.Scatter(x=[688, 688], y=[838, 851], mode="markers", xaxis=ov_x, yaxis=ov_y,
                         marker=dict(size=7, color=g_col), hoverinfo="skip", showlegend=False))
txt(697, 838, "Normal", 10, "#333", xa="left")
txt(697, 851, "Tumor", 10, "#333", xa="left")
for ly0, sx in ((500, [(592, 602), (664, 673)]), (708, [(594, 605), (664, 673)])):
    for (cx, tx), lab, c in zip(sx, cmls_groups, cm_fill):
        prect(cx - 5, ly0 - 4, cx + 5, ly0 + 4, fill=c)
        pline(cx, ly0 - 6, cx, ly0 + 6, c, 1)
        txt(tx, ly0, lab, 6.5, "#333", xa="left")

for lab, (x, y) in zip("ABCDEFG", [(9, 10), (467, 14), (10, 303), (300, 303), (303, 521),
                                    (10, 735), (390, 735)]):
    txt(x, y, f"<b>{lab}</b>", 15, "#111")

fig.update_layout(width=W, height=H, margin=dict(l=0, r=0, t=0, b=0), autosize=False,
                  paper_bgcolor="white", plot_bgcolor="rgba(0,0,0,0)", showlegend=False,
                  annotations=ANN, shapes=SHP, font=dict(family=SANS), **LAY)
fig.write_html("out.html")
